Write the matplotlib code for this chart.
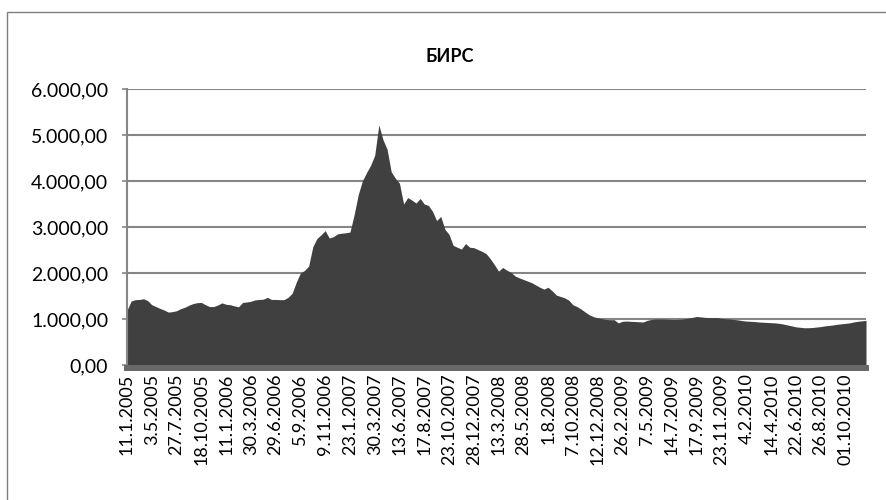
import matplotlib
matplotlib.use("Agg")
import matplotlib.pyplot as plt
from matplotlib.patches import Rectangle

title = "БИРС"

values = [
    1190, 1390, 1420, 1425, 1440, 1400, 1310, 1270, 1230, 1195,
    1150, 1160, 1180, 1225, 1255, 1300, 1335, 1355, 1360, 1310,
    1270, 1270, 1305, 1350, 1320, 1310, 1285, 1265, 1360, 1370,
    1385, 1415, 1425, 1430, 1470, 1425, 1425, 1420, 1420, 1470,
    1560, 1800, 2000, 2055, 2150, 2570, 2750, 2830, 2920, 2760,
    2790, 2850, 2865, 2875, 2890, 3260, 3700, 4000, 4180, 4340,
    4560, 5220, 4900, 4690, 4200, 4060, 3950, 3500, 3640, 3585,
    3520, 3620, 3500, 3470, 3340, 3140, 3230, 2950, 2840, 2600,
    2560, 2520, 2640, 2560, 2550, 2510, 2470, 2420, 2310, 2180,
    2040, 2120, 2060, 2015, 1935, 1895, 1860, 1825, 1790, 1740,
    1690, 1650, 1690, 1610, 1520, 1490, 1460, 1410, 1310, 1270,
    1215, 1150, 1090, 1050, 1025, 1010, 990, 985, 985, 915,
    950, 955, 950, 945, 940, 935, 970, 990, 1000, 1000,
    1000, 995, 990, 990, 995, 1005, 1020, 1035, 1055, 1045,
    1035, 1030, 1030, 1030, 1015, 1005, 1000, 990, 980, 965,
    955, 950, 945, 935, 930, 925, 920, 915, 905, 890,
    870, 850, 830, 820, 810, 810, 815, 825, 835, 850,
    860, 870, 885, 895, 905, 915, 935, 950, 960, 970,
]

date_labels = [
    "11.1.2005", "3.5.2005", "27.7.2005", "18.10.2005", "11.1.2006",
    "30.3.2006", "29.6.2006", "5.9.2006", "9.11.2006", "23.1.2007",
    "30.3.2007", "13.6.2007", "17.8.2007", "23.10.2007", "28.12.2007",
    "13.3.2008", "28.5.2008", "1.8.2008", "7.10.2008", "12.12.2008",
    "26.2.2009", "7.5.2009", "14.7.2009", "17.9.2009", "23.11.2009",
    "4.2.2010", "14.4.2010", "22.6.2010", "26.8.2010", "01.10.2010",
]
label_step = 6

y_ticks = [0, 1000, 2000, 3000, 4000, 5000, 6000]
y_tick_labels = ["0,00", "1.000,00", "2.000,00", "3.000,00", "4.000,00", "5.000,00", "6.000,00"]

plt.rcParams['font.family'] = ['Lato', 'DejaVu Sans']

W, H = 886, 500
fig = plt.figure(figsize=(W / 100, H / 100), dpi=100)
fig.patch.set_facecolor("white")

# outer chart border (left/top visible)
fig.patches.append(Rectangle((7 / W, -0.05), 1.2, 1 - 12 / H + 0.05,
                             transform=fig.transFigure, fill=False,
                             edgecolor="#7f7f7f", linewidth=1.0))

ax = fig.add_axes([127 / W, 1 - 365 / H, (866 - 127) / W, (365 - 89) / H])
x = list(range(len(values)))
ax.fill_between(x, 0, values, color="#404040", linewidth=0, zorder=2)

ax.set_xlim(0, len(values) - 1)
ax.set_ylim(0, 6000)
ax.set_yticks(y_ticks)
ax.set_yticklabels(y_tick_labels)
ax.set_xticks([i * label_step for i in range(len(date_labels))])
ax.set_xticklabels(date_labels)

ax.set_axisbelow(True)
ax.yaxis.grid(True, color="#868686", linewidth=1.5)
ax.xaxis.grid(False)

for s in ["top", "right"]:
    ax.spines[s].set_visible(False)
ax.spines["left"].set_color("#868686")
ax.spines["left"].set_linewidth(1.5)
ax.spines["bottom"].set_color("#686868")
ax.spines["bottom"].set_linewidth(4.3)
ax.spines["bottom"].set_position(("outward", 2.2))
ax.spines["bottom"].set_zorder(3)

ax.tick_params(axis="y", direction="out", length=3.6, width=1.2,
               color="#868686", pad=10, labelsize=14, labelcolor="black")
ax.tick_params(axis="x", length=0, pad=4, labelsize=13, labelcolor="black",
               labelrotation=90)
for lbl in ax.get_xticklabels():
    lbl.set_horizontalalignment("center")
    lbl.set_verticalalignment("top")

fig.text(450 / W, 1 - 57 / H, title, ha="center", va="center",
         fontsize=13, fontweight="bold", color="black")

fig.savefig("out.png", dpi=100, facecolor="white")
